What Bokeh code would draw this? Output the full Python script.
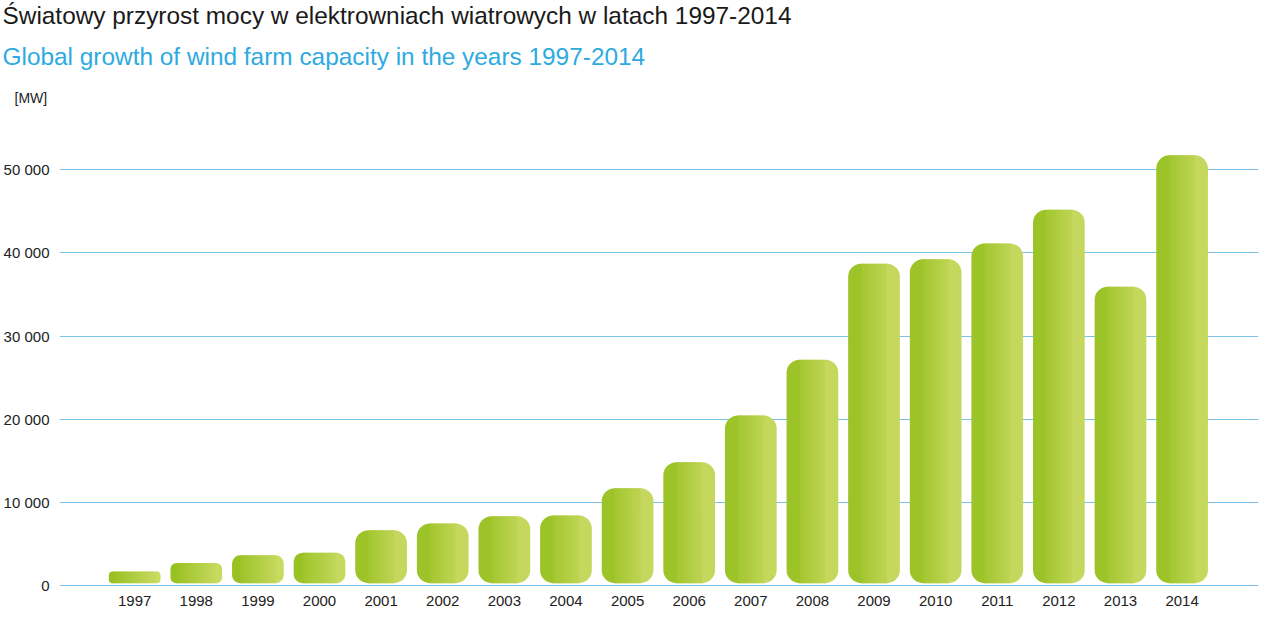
import numpy as np
from bokeh.plotting import figure
from bokeh.models import Title, FixedTicker, Range1d, ColumnDataSource
from bokeh.embed import file_html
from bokeh.resources import INLINE

# ---- data ----
years = [1997, 1998, 1999, 2000, 2001, 2002, 2003, 2004, 2005,
         2006, 2007, 2008, 2009, 2010, 2011, 2012, 2013, 2014]
capacity_mw = [1690, 2700, 3630, 3950, 6650, 7460, 8340, 8430, 11700,
               14830, 20450, 27150, 38710, 39230, 41150, 45210, 35940, 51740]
y_ticks = [0, 10000, 20000, 30000, 40000, 50000]
y_tick_labels = ["0", "10 000", "20 000", "30 000", "40 000", "50 000"]
x_tick_labels = [str(y) for y in years]
title_pl = "Światowy przyrost mocy w elektrowniach wiatrowych w latach 1997-2014"
title_en = "Global growth of wind farm capacity in the years 1997-2014"
unit_label = "[MW]"

# ---- layout / style ----
W, H = 1278, 622
ML, MR, MT, MB = 59, 20, 110, 32
frame_w = W - ML - MR
frame_h = H - MT - MB
x_start, x_end = 1995.78, 2015.24
y_start, y_end = -601, 57133
kx = frame_w / (x_end - x_start)
ky = frame_h / (y_end - y_start)

FONT = "Liberation Sans"
GRID = "#7dc3e9"

p = figure(width=W, height=H, x_range=Range1d(x_start, x_end),
           y_range=Range1d(y_start, y_end), output_backend="svg",
           toolbar_location=None, title=None)
p.min_border_left = ML
p.min_border_right = MR
p.min_border_top = MT
p.min_border_bottom = MB
p.outline_line_color = None
p.background_fill_color = "white"
p.border_fill_color = "white"

p.xgrid.visible = False
p.ygrid.ticker = FixedTicker(ticks=y_ticks)
p.ygrid.grid_line_color = GRID
p.ygrid.grid_line_width = 1

for ax in (p.xaxis[0], p.yaxis[0]):
    ax.axis_line_color = None
    ax.major_tick_line_color = None
    ax.minor_tick_line_color = None
    ax.major_tick_out = 0
    ax.major_tick_in = 0
    ax.major_label_text_font = FONT
    ax.major_label_text_font_size = "15px"
    ax.major_label_text_color = "#222222"

p.yaxis.ticker = FixedTicker(ticks=y_ticks)
p.yaxis.major_label_overrides = {t: l for t, l in zip(y_ticks, y_tick_labels)}
p.yaxis.major_label_standoff = 10
p.xaxis.ticker = FixedTicker(ticks=years)
p.xaxis.major_label_overrides = {y: l for y, l in zip(years, x_tick_labels)}
p.xaxis.major_label_standoff = 5

# ---- gradient rounded bars ----
c0 = np.array([0x95, 0xBF, 0x1E], dtype=float)
c1 = np.array([0xCC, 0xDC, 0x66], dtype=float)

def grad(f):
    c = c0 + (c1 - c0) * min(max(f, 0.0), 1.0)
    return "#%02x%02x%02x" % tuple(int(round(v)) for v in c)

base = 280
bar_w = 0.839
wpx = bar_w * kx
n_mid = 16
one_px = 1.0 / kx

mid = dict(left=[], right=[], top=[], bottom=[], color=[])
edges = []
for yr, v in zip(years, capacity_mw):
    h_px = (v - base) * ky
    r = int(max(2, min(13, round(0.3 * h_px))))
    r_u = r / kx
    L = yr - bar_w / 2
    R = yr + bar_w / 2
    edges.append((yr, v, r, r_u, L, R))
    span = (R - r_u) - (L + r_u)
    for j in range(n_mid):
        a = L + r_u + span * j / n_mid
        b = L + r_u + span * (j + 1) / n_mid
        f = ((a + b) / 2 - L) / bar_w
        mid["left"].append(a)
        mid["right"].append(b + one_px)
        mid["top"].append(v)
        mid["bottom"].append(base)
        mid["color"].append(grad(f))

for yr, v, r, r_u, L, R in edges:
    p.quad(left=[L], right=[L + r_u + one_px], top=[v], bottom=[base],
           fill_color=grad(r / 2 / wpx), line_color=None,
           border_radius=dict(top_left=r, top_right=0, bottom_right=0, bottom_left=r))

p.quad(left="left", right="right", top="top", bottom="bottom",
       fill_color="color", line_color=None, source=ColumnDataSource(mid))

for yr, v, r, r_u, L, R in edges:
    p.quad(left=[R - r_u], right=[R], top=[v], bottom=[base],
           fill_color=grad(1 - r / 2 / wpx), line_color=None,
           border_radius=dict(top_left=0, top_right=r, bottom_right=r, bottom_left=0))

# ---- titles (first added = closest to the frame) ----
p.add_layout(Title(text=unit_label, text_font=FONT, text_font_size="14px",
                   text_font_style="normal", text_color="#222222",
                   align="left", offset=-45, standoff=9), "above")
p.add_layout(Title(text=title_en, text_font=FONT, text_font_size="24.4px",
                   text_font_style="normal", text_color="#2eaae1",
                   align="left", offset=-57, standoff=28), "above")
p.add_layout(Title(text=title_pl, text_font=FONT, text_font_size="24.4px",
                   text_font_style="normal", text_color="#1a1a1a",
                   align="left", offset=-57, standoff=-4), "above")

open("out.html", "w").write(file_html(p, INLINE))
